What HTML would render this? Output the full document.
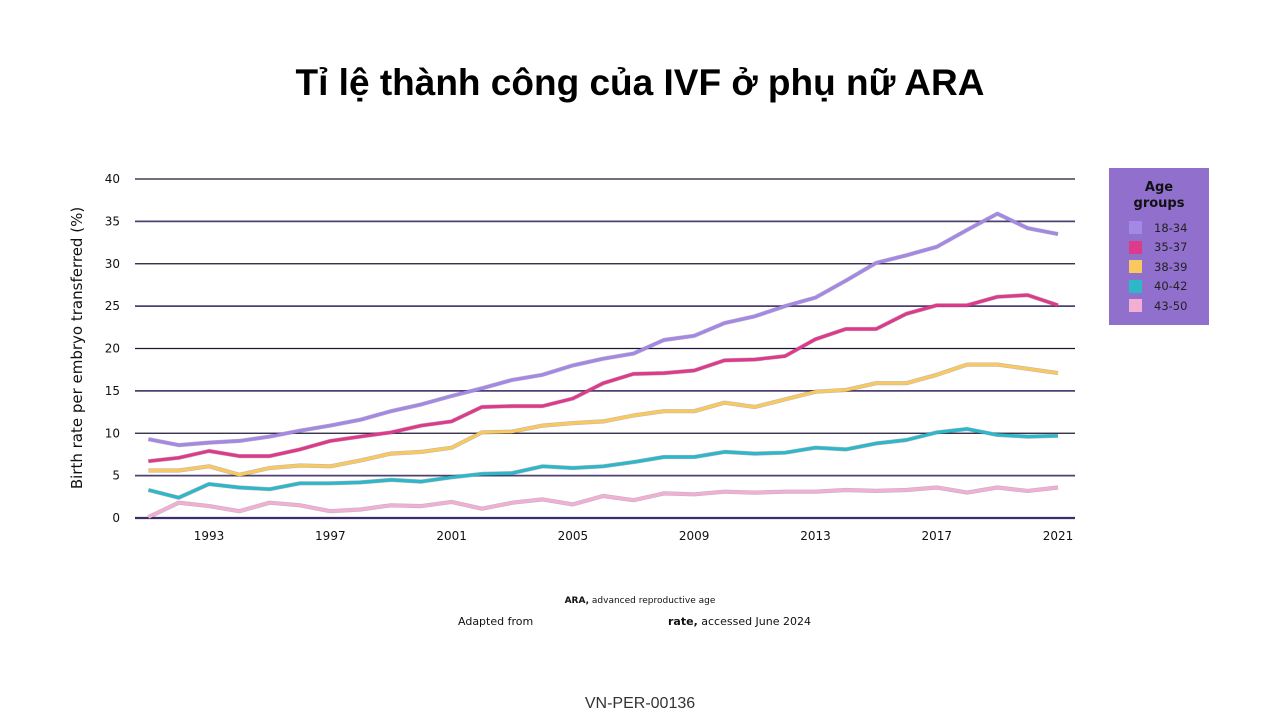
<!DOCTYPE html>
<html><head><meta charset="utf-8"><style>
body{margin:0;width:1280px;height:720px;background:#fff;font-family:"DejaVu Sans","Liberation Sans",sans-serif;overflow:hidden;position:relative}
.t{position:absolute}
</style></head><body>
<div class="t" style="left:0;width:1280px;top:62px;text-align:center;font-family:'Liberation Sans',sans-serif;font-weight:bold;font-size:37px;color:#000">Tỉ lệ thành công của IVF ở phụ nữ ARA</div>
<svg id="c" width="1280" height="720" style="position:absolute;left:0;top:0"></svg>
<div class="t" style="left:1109px;top:168px;width:100px;height:157px;background:#9070cc">
<div style="text-align:center;font-weight:bold;font-size:13px;margin-top:12px;line-height:16px;color:#111">Age<br>groups</div>
<div id="lg" style="margin-top:6px"></div>
</div>
<div class="t" style="left:0;width:1280px;top:596px;text-align:center;font-size:9px;color:#111"><b>ARA,</b> advanced reproductive age</div>
<div class="t" style="left:458px;top:615px;font-size:11px;color:#111">Adapted from</div>
<div class="t" style="left:668px;top:615px;font-size:11px;color:#111"><b>rate,</b> accessed June 2024</div>
<div class="t" style="left:0;width:1280px;top:695px;text-align:center;font-family:'Liberation Sans',sans-serif;font-size:16px;color:#333">VN-PER-00136</div>
<script>
const years=[1991,1992,1993,1994,1995,1996,1997,1998,1999,2000,2001,2002,2003,2004,2005,2006,2007,2008,2009,2010,2011,2012,2013,2014,2015,2016,2017,2018,2019,2020,2021];
const s1834=[9.3,8.6,8.9,9.1,9.6,10.3,10.9,11.6,12.6,13.4,14.4,15.3,16.3,16.9,18.0,18.8,19.4,21.0,21.5,23.0,23.8,25.0,26.0,28.0,30.1,31.0,32.0,34.0,35.9,34.2,33.5];
const s3537=[6.7,7.1,7.9,7.3,7.3,8.1,9.1,9.6,10.1,10.9,11.4,13.1,13.2,13.2,14.1,15.9,17.0,17.1,17.4,18.6,18.7,19.1,21.1,22.3,22.3,24.1,25.1,25.1,26.1,26.3,25.1];
const s3839=[5.6,5.6,6.1,5.1,5.9,6.2,6.1,6.8,7.6,7.8,8.3,10.1,10.2,10.9,11.2,11.4,12.1,12.6,12.6,13.6,13.1,14.0,14.9,15.1,15.9,15.9,16.9,18.1,18.1,17.6,17.1];
const s4042=[3.3,2.4,4.0,3.6,3.4,4.1,4.1,4.2,4.5,4.3,4.8,5.2,5.3,6.1,5.9,6.1,6.6,7.2,7.2,7.8,7.6,7.7,8.3,8.1,8.8,9.2,10.1,10.5,9.8,9.6,9.7];
const s4350=[0.1,1.8,1.4,0.8,1.8,1.5,0.8,1.0,1.5,1.4,1.9,1.1,1.8,2.2,1.6,2.6,2.1,2.9,2.8,3.1,3.0,3.1,3.1,3.3,3.2,3.3,3.6,3.0,3.6,3.2,3.6];
const seriesNames=["18-34","35-37","38-39","40-42","43-50"];
const colors=["#a388e6","#de3a8c","#f7c95e","#2cb8c8","#f2aed3"];
const yTicks=[0,5,10,15,20,25,30,35,40];
const xTicks=[1993,1997,2001,2005,2009,2013,2017,2021];
const all=[s1834,s3537,s3839,s4042,s4350];
const X=y=>148.4+(y-1991)*(1058-209)/28;
const Y=v=>518-v*(518-179)/40;
const svg=document.getElementById('c'),NS='http://www.w3.org/2000/svg';
function mk(t,a){const e=document.createElementNS(NS,t);for(const k in a)e.setAttribute(k,a[k]);svg.appendChild(e);return e;}
yTicks.forEach(v=>{
 const l=mk('line',{x1:135,x2:1075,y1:Y(v),y2:Y(v),stroke:v==0?'#3d2f66':(v%10==5?'#4e4070':'#1e1835'),'stroke-width':v==0?2.2:(v%10==5?1.8:1.2)});
 
 
 const t=mk('text',{x:120,y:Y(v)+4,'text-anchor':'end','font-size':12,fill:'#111'});t.textContent=v;
 
 
});
xTicks.forEach(v=>{
 const t=mk('text',{x:X(v),y:540,'text-anchor':'middle','font-size':12,fill:'#111'});t.textContent=v;
 
 
});
const yt=mk('text',{x:0,y:0,transform:'translate(82,348) rotate(-90)','text-anchor':'middle','font-size':15,fill:'#111'});
yt.textContent='Birth rate per embryo transferred (%)';


all.forEach((s,i)=>{
 const d=s.map((v,j)=>(j?'L':'M')+X(years[j]).toFixed(1)+','+Y(v).toFixed(1)).join(' ');
 mk('path',{d:d,fill:'none',stroke:'rgba(60,40,60,0.35)','stroke-width':4.2,'stroke-linejoin':'round'});
 const p=mk('path',{d:d,fill:'none',stroke:colors[i],'stroke-width':3.2,'stroke-linejoin':'round'});
 
 
});
const lg=document.getElementById('lg');
seriesNames.forEach((n,i)=>{
 const r=document.createElement('div');
 
 
 r.style.cssText='height:19.5px;display:flex;align-items:center;font-size:11.5px;color:#222';
 r.innerHTML='<span style="display:inline-block;width:13px;height:13px;background:'+colors[i]+';margin-left:20px;margin-right:12px"></span>'+n;
 lg.appendChild(r);
});
</script>
</body></html>
